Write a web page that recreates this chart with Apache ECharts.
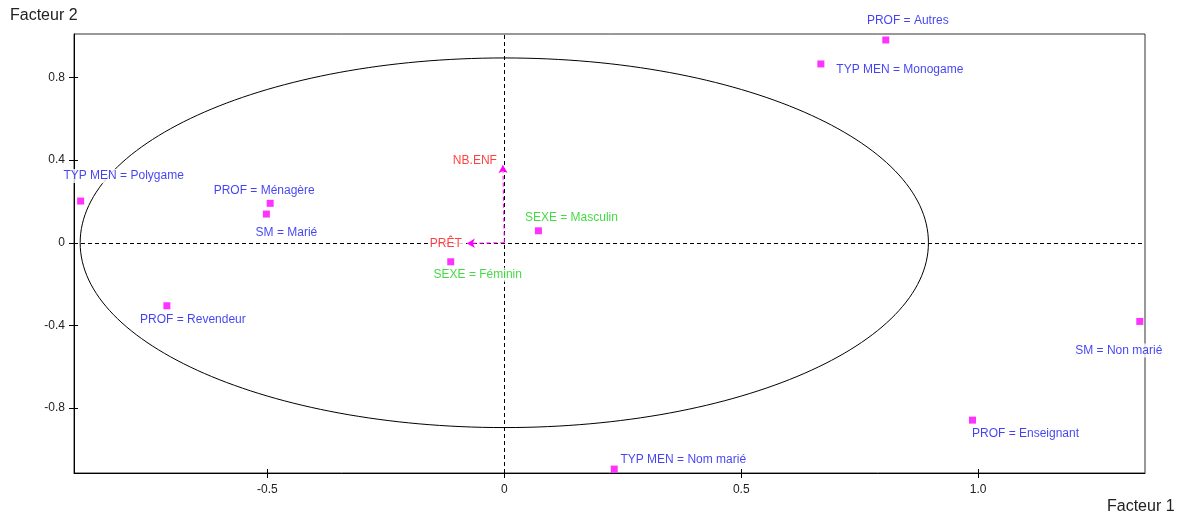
<!DOCTYPE html>
<html>
<head>
<meta charset="utf-8">
<script src="https://cdn.jsdelivr.net/npm/echarts@6/dist/echarts.min.js"></script>
<style>
html,body{margin:0;padding:0;background:#fff;}
#chart{width:1179px;height:518px;}
</style>
</head>
<body>
<div id="chart"></div>
<script>
// ---- data ----
const categories = [
  'PROF = Autres', 'TYP MEN = Monogame', 'TYP MEN = Polygame', 'PROF = Ménagère',
  'SM = Marié', 'SEXE = Masculin', 'SEXE = Féminin', 'PROF = Revendeur',
  'SM = Non marié', 'PROF = Enseignant', 'TYP MEN = Nom marié'
];
const factor1 = [0.805, 0.668, -0.894, -0.494, -0.502, 0.072, -0.113, -0.712, 1.341, 0.988, 0.232];
const factor2 = [0.982, 0.866, 0.202, 0.191, 0.139, 0.058, -0.092, -0.305, -0.381, -0.859, -1.096];
const variableNames = ['NB.ENF', 'PRÊT'];
const variableF1 = [-0.003, -0.079];
const variableF2 = [0.376, -0.003];
const xTicks = [-0.5, 0, 0.5, 1.0];
const xTickLabels = ['-0.5', '0', '0.5', '1.0'];
const yTicks = [-0.8, -0.4, 0, 0.4, 0.8];
const yTickLabels = ['-0.8', '-0.4', '0', '0.4', '0.8'];
const circleRadius = 0.895;

// ---- styling (not data) ----
const xMin = -0.908, xMax = 1.352, yMin = -1.115, yMax = 1.011;
const FONT = 'Liberation Sans';
const labelOffsets = {
  'PROF = Autres': [22, -19],
  'TYP MEN = Monogame': [79, 6],
  'TYP MEN = Polygame': [43, -25],
  'PROF = Ménagère': [-6, -13],
  'SM = Marié': [20, 19],
  'SEXE = Masculin': [33, -13],
  'SEXE = Féminin': [27, 13],
  'PROF = Revendeur': [26, 14],
  'SM = Non marié': [-21, 29],
  'PROF = Enseignant': [53, 14],
  'TYP MEN = Nom marié': [69, -9],
  'NB.ENF': [-28, -4],
  'PRÊT': [-21, 0]
};
const blue = '#1414f0', green = '#14d214', red = '#ff1010', magenta = '#ff00ff';

function labelStyle(text, offset, color) {
  return {
    show: true, position: 'inside', offset: offset,
    formatter: '{t|' + text + '}',
    rich: {t: {color: color, fontFamily: FONT, fontSize: 12, backgroundColor: '#fff', padding: [1, 2, 1, 2]}}
  };
}

const pointData = categories.map((c, i) => ({
  value: [factor1[i], factor2[i]],
  name: c,
  label: labelStyle(c, labelOffsets[c], c.indexOf('SEXE') === 0 ? green : blue)
}));

const arrowLines = variableNames.map((n, i) => [
  { coord: [0, 0] },
  { coord: [variableF1[i], variableF2[i]] }
]);
const arrowLabelData = variableNames.map((n, i) => ({
  value: [variableF1[i], variableF2[i]],
  name: n,
  label: labelStyle(n, labelOffsets[n], red)
}));

const chart = echarts.init(document.getElementById('chart'), null, {renderer: 'canvas'});

const baseAxisLabel = {color: '#222', fontFamily: FONT, fontSize: 12};

const option = {
  animation: false,
  backgroundColor: '#fff',
  grid: {left: 74, top: 34, right: 34, bottom: 45, show: true, borderColor: '#333', borderWidth: 1, containLabel: false, z: 0},
  xAxis: [{
    type: 'value', min: xMin, max: xMax, position: 'bottom', z: 0,
    axisLine: {show: true, onZero: false, lineStyle: {color: '#000', width: 1}},
    axisTick: {show: true, length: 5, customValues: xTicks, lineStyle: {color: '#000'}},
    axisLabel: Object.assign({customValues: xTicks, margin: 11,
      formatter: v => { const k = xTicks.findIndex(t => Math.abs(t - v) < 1e-9); return k >= 0 ? xTickLabels[k] : ''; }}, baseAxisLabel),
    splitLine: {show: false}
  }, {
    type: 'value', min: xMin, max: xMax, position: 'bottom', z: 0,
    axisLine: {show: false, onZero: false},
    axisTick: {show: true, inside: true, length: 4, customValues: xTicks, lineStyle: {color: '#000'}},
    axisLabel: {show: false}, splitLine: {show: false}
  }],
  yAxis: [{
    type: 'value', min: yMin, max: yMax, position: 'left', z: 0,
    axisLine: {show: true, onZero: false, lineStyle: {color: '#000', width: 1}},
    axisTick: {show: true, length: 5, customValues: yTicks, lineStyle: {color: '#000'}},
    axisLabel: Object.assign({customValues: yTicks, margin: 9,
      formatter: v => { const k = yTicks.findIndex(t => Math.abs(t - v) < 1e-9); return k >= 0 ? yTickLabels[k] : ''; }}, baseAxisLabel),
    splitLine: {show: false}
  }, {
    type: 'value', min: yMin, max: yMax, position: 'left', z: 0,
    axisLine: {show: false, onZero: false},
    axisTick: {show: true, inside: true, length: 4, customValues: yTicks, lineStyle: {color: '#000'}},
    axisLabel: {show: false}, splitLine: {show: false}
  }],
  series: [
    {
      type: 'scatter', xAxisIndex: 0, yAxisIndex: 0, symbolSize: 0, data: [], silent: true,
      markLine: {
        silent: true, z: 1, symbol: ['none', 'none'], animation: false,
        lineStyle: {color: '#000', type: [4, 3], width: 1},
        label: {show: false},
        data: [{xAxis: 0}, {yAxis: 0}]
      },
      z: 1
    },
    {
      type: 'scatter', xAxisIndex: 0, yAxisIndex: 0, symbolSize: 0, data: [], silent: true,
      markLine: {
        silent: true, z: 2, symbol: ['none', 'arrow'], symbolSize: [7, 8], animation: false,
        lineStyle: {color: magenta, type: [4, 3], width: 1},
        label: {show: false},
        data: arrowLines
      },
      z: 2
    },
    {
      type: 'scatter', xAxisIndex: 0, yAxisIndex: 0, symbol: 'rect', symbolSize: 1,
      itemStyle: {color: 'rgba(0,0,0,0)'}, data: arrowLabelData, clip: false, z: 8
    },
    {
      type: 'scatter', xAxisIndex: 0, yAxisIndex: 0, symbol: 'rect', symbolSize: 7,
      itemStyle: {color: magenta}, data: pointData, clip: false, z: 9
    }
  ]
};
chart.setOption(option);

// ellipse of the reference circle (radius in data units)
const c0 = chart.convertToPixel({gridIndex: 0}, [0, 0]);
const cx = chart.convertToPixel({gridIndex: 0}, [circleRadius, 0]);
const cy = chart.convertToPixel({gridIndex: 0}, [0, circleRadius]);
chart.setOption({
  graphic: [
    {type: 'text', left: 10, top: 8, style: {text: 'Facteur 2', fill: '#222', font: '16px "Liberation Sans"'}},
    {type: 'text', left: 1107, top: 499, style: {text: 'Facteur 1', fill: '#222', font: '16px "Liberation Sans"'}},
    {type: 'ellipse', z: 0, silent: true,
      shape: {cx: c0[0], cy: c0[1], rx: Math.abs(cx[0] - c0[0]), ry: Math.abs(c0[1] - cy[1])},
      style: {fill: 'none', stroke: '#000', lineWidth: 1}}
  ]
});
</script>
</body>
</html>
